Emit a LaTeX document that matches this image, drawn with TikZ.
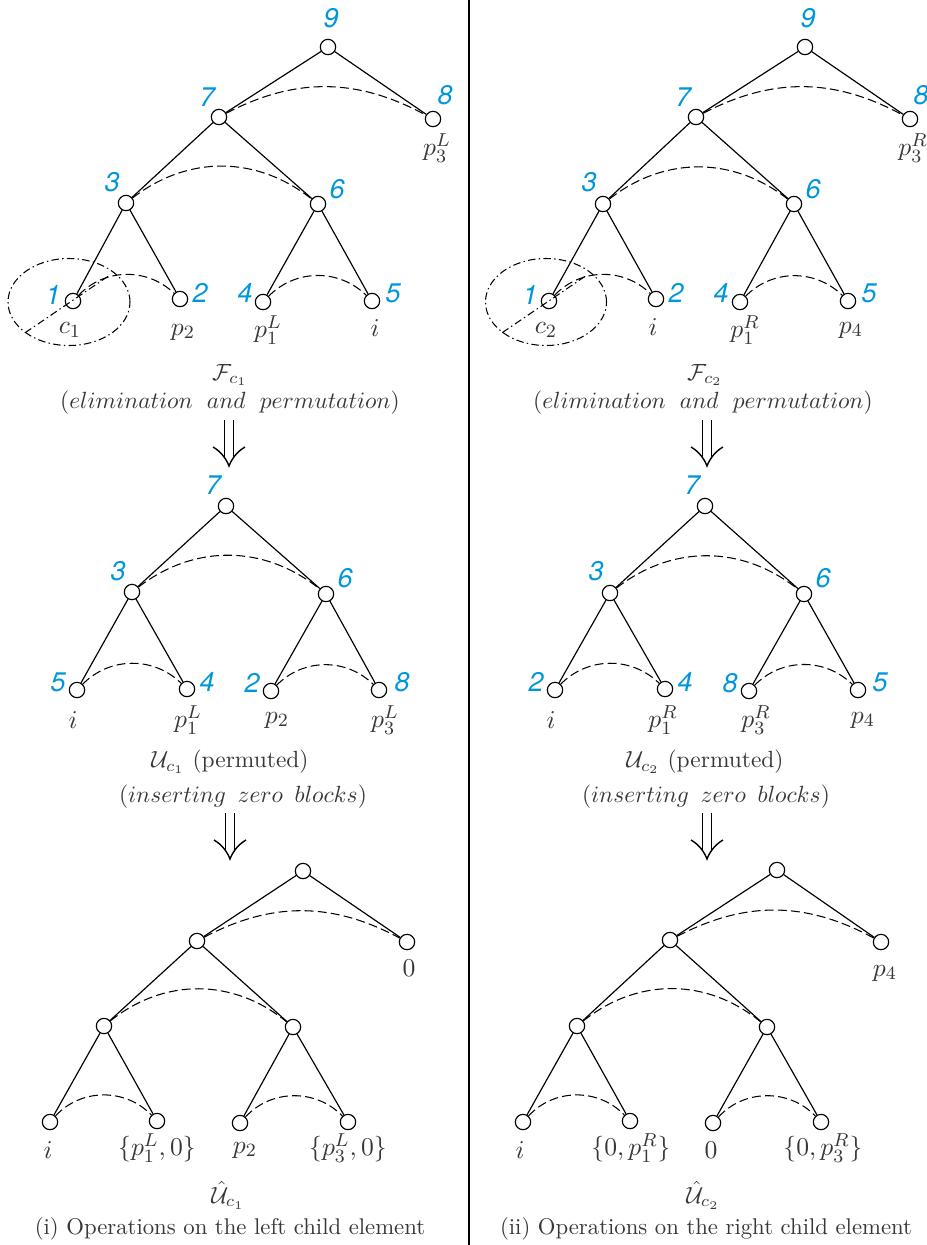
\documentclass[tikz,border=0pt]{standalone}
\usepackage{fontspec}
\usepackage{amsmath}
\newfontfamily\numfam{TeX Gyre Heros}
\usetikzlibrary{calc,shapes.geometric}
\definecolor{numblue}{RGB}{0,150,220}
\definecolor{labgray}{RGB}{55,55,55}
\begin{document}
\begin{tikzpicture}[x=0.015cm,y=-0.015cm,
 vtx/.style={circle,draw,line width=0.5pt,minimum size=2.3mm,inner sep=0pt},
 num/.style={text=numblue,inner sep=0pt,font=\fontsize{11.5}{13}\selectfont\numfam\itshape},
 lab/.style={text=labgray,inner sep=0pt,font=\fontsize{11}{13}\selectfont},
 captxt/.style={text=labgray,inner sep=0pt,font=\fontsize{10}{12}\selectfont},
 subcap/.style={text=labgray,inner sep=0pt,font=\fontsize{9.7}{11.5}\selectfont},
 tedge/.style={line width=0.5pt},
 sib/.style={line width=0.45pt,dash pattern=on 3.8pt off 1.8pt},
 ddot/.style={line width=0.45pt,dash pattern=on 3.2pt off 1.4pt on 0.6pt off 1.4pt},
 arrln/.style={line width=0.6pt},
 dnarr/.pic={
   \draw[arrln] (-4.5,-46) -- (-4.5,-8);
   \draw[arrln] (4.5,-46) -- (4.5,-8);
   \draw[arrln] (-16,-19) .. controls (-9,-15) and (-3,-8) .. (0,0) .. controls (3,-8) and (9,-15) .. (16,-19);
 }
]
\useasboundingbox (0,0) rectangle (926,1245);

% divider
\coordinate (divtop) at (469,0);
\coordinate (divbot) at (469,1245);
\draw[line width=0.9pt] (divtop) -- (divbot);

%%%%%%%%%%%% top left tree
\node[vtx] (a9) at (328,47) {};
\node[vtx] (a7) at (219,117) {};
\node[vtx] (a8) at (433,119) {};
\node[vtx] (a3) at (126,203) {};
\node[vtx] (a6) at (318,204) {};
\node[vtx] (a1) at (73,301) {};
\node[vtx] (a2) at (180,299) {};
\node[vtx] (a4) at (263,302) {};
\node[vtx] (a5) at (372,301) {};
\node[num] (na9) at (331,18) {9};
\node[num] (na7) at (207,97) {7};
\node[num] (na8) at (445,95) {8};
\node[num] (na3) at (112,182) {3};
\node[num] (na6) at (337,189) {6};
\node[num] (na1) at (53,295) {1};
\node[num] (na2) at (200,293) {2};
\node[num] (na4) at (245,293) {4};
\node[num] (na5) at (393,293) {5};
\node[lab] (la8) at (437,148) {$p_3^L$};
\node[lab] (la1) at (70,330) {$c_1$};
\node[lab] (la2) at (183,332) {$p_2$};
\node[lab] (la4) at (268,330) {$p_1^L$};
\node[lab] (la5) at (375,328) {$i$};
\draw[tedge] (a9)--(a7) (a9)--(a8) (a7)--(a3) (a7)--(a6) (a3)--(a1) (a3)--(a2) (a6)--(a4) (a6)--(a5);
\draw[sib] (a7) to[bend left=28] (a8);
\draw[sib] (a3) to[bend left=38] (a6);
\draw[sib] (a1) to[bend left=45] (a2);
\draw[sib] (a4) to[bend left=45] (a5);
\node[ellipse,draw,ddot,minimum width=1.83cm,minimum height=1.305cm,inner sep=0pt] (ell1) at (69,302) {};
\coordinate (dd1) at (110,275);
\draw[ddot] (ell1.215) -- (dd1);

%%%%%%%%%%%% top right tree
\node[vtx] (b9) at (805,47) {};
\node[vtx] (b7) at (696,117) {};
\node[vtx] (b8) at (910,119) {};
\node[vtx] (b3) at (603,204) {};
\node[vtx] (b6) at (794,204) {};
\node[vtx] (b1) at (549,301) {};
\node[vtx] (b2) at (656,299) {};
\node[vtx] (b4) at (740,302) {};
\node[vtx] (b5) at (848,301) {};
\node[num] (nb9) at (808,18) {9};
\node[num] (nb7) at (683,97) {7};
\node[num] (nb8) at (921,95) {8};
\node[num] (nb3) at (589,182) {3};
\node[num] (nb6) at (813,189) {6};
\node[num] (nb1) at (530,295) {1};
\node[num] (nb2) at (676,293) {2};
\node[num] (nb4) at (721,293) {4};
\node[num] (nb5) at (869,293) {5};
\node[lab] (lb8) at (913,148) {$p_3^R$};
\node[lab] (lb1) at (546,330) {$c_2$};
\node[lab] (lb2) at (653,327) {$i$};
\node[lab] (lb4) at (745,330) {$p_1^R$};
\node[lab] (lb5) at (851,330) {$p_4$};
\draw[tedge] (b9)--(b7) (b9)--(b8) (b7)--(b3) (b7)--(b6) (b3)--(b1) (b3)--(b2) (b6)--(b4) (b6)--(b5);
\draw[sib] (b7) to[bend left=28] (b8);
\draw[sib] (b3) to[bend left=38] (b6);
\draw[sib] (b1) to[bend left=45] (b2);
\draw[sib] (b4) to[bend left=45] (b5);
\node[ellipse,draw,ddot,minimum width=1.815cm,minimum height=1.305cm,inner sep=0pt] (ell2) at (546,302) {};
\coordinate (dd2) at (587,275);
\draw[ddot] (ell2.215) -- (dd2);

%%%%%%%%%%%% captions 1
\node[captxt] (capF1) at (230,375) {$\mathcal{F}_{c_1}$};
\node[captxt] (capE1) at (230,403) {$(elimination\ \;and\ \;permutation)$};
\node[captxt] (capF2) at (705,375) {$\mathcal{F}_{c_2}$};
\node[captxt] (capE2) at (703,403) {$(elimination\ \;and\ \;permutation)$};
\pic at (229,466) {dnarr};
\pic at (707,466) {dnarr};

%%%%%%%%%%%% middle left tree
\node[vtx] (c7) at (226,506) {};
\node[vtx] (c3) at (132,592) {};
\node[vtx] (c6) at (326,594) {};
\node[vtx] (c5) at (77,690) {};
\node[vtx] (c4) at (187,689) {};
\node[vtx] (c2) at (271,691) {};
\node[vtx] (c8) at (379,690) {};
\node[num] (nc7) at (213,485) {7};
\node[num] (nc3) at (118,571) {3};
\node[num] (nc6) at (345,578) {6};
\node[num] (nc5) at (58,682) {5};
\node[num] (nc4) at (207,682) {4};
\node[num] (nc2) at (252,683) {2};
\node[num] (nc8) at (402,682) {8};
\node[lab] (lc5) at (73,720) {$i$};
\node[lab] (lc4) at (188,720) {$p_1^L$};
\node[lab] (lc2) at (277,720) {$p_2$};
\node[lab] (lc8) at (385,720) {$p_3^L$};
\draw[tedge] (c7)--(c3) (c7)--(c6) (c3)--(c5) (c3)--(c4) (c6)--(c2) (c6)--(c8);
\draw[sib] (c3) to[bend left=38] (c6);
\draw[sib] (c5) to[bend left=45] (c4);
\draw[sib] (c2) to[bend left=45] (c8);

%%%%%%%%%%%% middle right tree
\node[vtx] (d7) at (705,506) {};
\node[vtx] (d3) at (610,593) {};
\node[vtx] (d6) at (804,594) {};
\node[vtx] (d2) at (555,690) {};
\node[vtx] (d4) at (665,689) {};
\node[vtx] (d8) at (749,691) {};
\node[vtx] (d5) at (858,690) {};
\node[num] (nd7) at (692,485) {7};
\node[num] (nd3) at (596,571) {3};
\node[num] (nd6) at (823,578) {6};
\node[num] (nd2) at (536,682) {2};
\node[num] (nd4) at (685,682) {4};
\node[num] (nd8) at (730,683) {8};
\node[num] (nd5) at (880,682) {5};
\node[lab] (ld2) at (551,720) {$i$};
\node[lab] (ld4) at (663,720) {$p_1^R$};
\node[lab] (ld8) at (756,720) {$p_3^R$};
\node[lab] (ld5) at (863,720) {$p_4$};
\draw[tedge] (d7)--(d3) (d7)--(d6) (d3)--(d2) (d3)--(d4) (d6)--(d8) (d6)--(d5);
\draw[sib] (d3) to[bend left=38] (d6);
\draw[sib] (d2) to[bend left=45] (d4);
\draw[sib] (d8) to[bend left=45] (d5);

%%%%%%%%%%%% captions 2
\node[captxt] (capU1) at (230,762) {$\mathcal{U}_{c_1}$ (permuted)};
\node[captxt] (capI1) at (243,797) {$(inserting\ \,zero\ \,blocks)$};
\node[captxt] (capU2) at (705,762) {$\mathcal{U}_{c_2}$ (permuted)};
\node[captxt] (capI2) at (706,797) {$(inserting\ \,zero\ \,blocks)$};
\pic at (230,859) {dnarr};
\pic at (707,859) {dnarr};

%%%%%%%%%%%% bottom left tree
\node[vtx] (e9) at (303,871) {};
\node[vtx] (e7) at (197,941) {};
\node[vtx] (e8) at (407,942) {};
\node[vtx] (e3) at (104,1026) {};
\node[vtx] (e6) at (293,1027) {};
\node[vtx] (e1) at (50,1122) {};
\node[vtx] (e2) at (157,1121) {};
\node[vtx] (e4) at (240,1123) {};
\node[vtx] (e5) at (348,1122) {};
\node[lab] (le8) at (409,968) {$0$};
\node[lab] (le1) at (48,1150) {$i$};
\node[lab] (le2) at (157,1148) {$\{p_1^L, 0\}$};
\node[lab] (le4) at (245,1150) {$p_2$};
\node[lab] (le5) at (348,1148) {$\{p_3^L, 0\}$};
\draw[tedge] (e9)--(e7) (e9)--(e8) (e7)--(e3) (e7)--(e6) (e3)--(e1) (e3)--(e2) (e6)--(e4) (e6)--(e5);
\draw[sib] (e7) to[bend left=28] (e8);
\draw[sib] (e3) to[bend left=39] (e6);
\draw[sib] (e1) to[bend left=47] (e2);
\draw[sib] (e4) to[bend left=47] (e5);

%%%%%%%%%%%% bottom right tree
\node[vtx] (f9) at (777,870) {};
\node[vtx] (f7) at (670,940) {};
\node[vtx] (f8) at (881,942) {};
\node[vtx] (f3) at (577,1026) {};
\node[vtx] (f6) at (767,1027) {};
\node[vtx] (f1) at (523,1122) {};
\node[vtx] (f2) at (630,1121) {};
\node[vtx] (f4) at (713,1123) {};
\node[vtx] (f5) at (821,1122) {};
\node[lab] (lf8) at (885,973) {$p_4$};
\node[lab] (lf1) at (520,1150) {$i$};
\node[lab] (lf2) at (631,1148) {$\{0, p_1^R\}$};
\node[lab] (lf4) at (711,1150) {$0$};
\node[lab] (lf5) at (823,1148) {$\{0, p_3^R\}$};
\draw[tedge] (f9)--(f7) (f9)--(f8) (f7)--(f3) (f7)--(f6) (f3)--(f1) (f3)--(f2) (f6)--(f4) (f6)--(f5);
\draw[sib] (f7) to[bend left=28] (f8);
\draw[sib] (f3) to[bend left=39] (f6);
\draw[sib] (f1) to[bend left=47] (f2);
\draw[sib] (f4) to[bend left=47] (f5);

%%%%%%%%%%%% bottom captions
\node[captxt] (capH1) at (228,1195) {$\hat{\mathcal{U}}_{c_1}$};
\node[subcap] (capS1) at (230,1229) {(i) Operations on the left child element};
\node[captxt] (capH2) at (703,1195) {$\hat{\mathcal{U}}_{c_2}$};
\node[subcap] (capS2) at (706,1229) {(ii) Operations on the right child element};
\end{tikzpicture}
\end{document}
